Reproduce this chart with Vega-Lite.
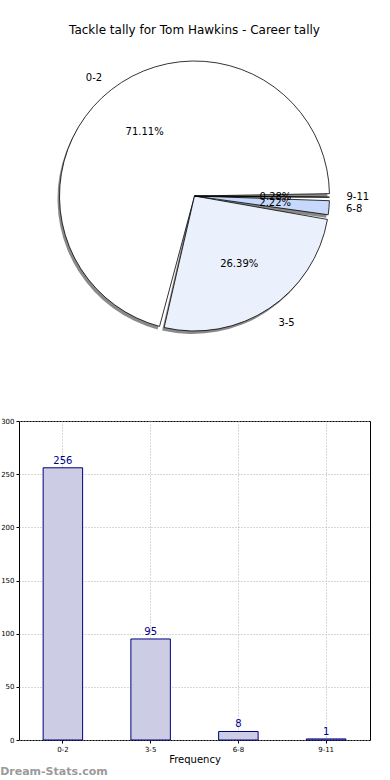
{
  "$schema": "https://vega.github.io/schema/vega-lite/v6.json",
  "padding": {"left": 0, "top": 24, "right": 20, "bottom": 2},
  "background": "white",
  "config": {
    "font": "DejaVu Sans",
    "view": {"stroke": null},
    "title": {"font": "DejaVu Sans", "fontWeight": "normal", "color": "black"}
  },
  "datasets": {
    "tally": [
      {"category": "0-2", "count": 256},
      {"category": "3-5", "count": 95},
      {"category": "6-8", "count": 8},
      {"category": "9-11", "count": 1}
    ]
  },
  "title": {
    "text": "Dream-Stats.com",
    "orient": "bottom",
    "anchor": "start",
    "fontSize": 11,
    "fontWeight": "bold",
    "color": "#9a9a9a",
    "offset": 1
  },
  "vconcat": [
    {
      "width": 351,
      "height": 290,
      "title": {"text": "Tackle tally for Tom Hawkins - Career tally", "fontSize": 12, "offset": 14, "anchor": "middle"},
      "data": {"name": "tally"},
      "transform": [
        {"joinaggregate": [{"op": "sum", "field": "count", "as": "total"}]},
        {"calculate": "datum.count / datum.total", "as": "pct"}
      ],
      "encoding": {
        "theta": {"field": "count", "type": "quantitative", "stack": true, "scale": {"range": [1.5708, 7.854]}},
        "order": {"field": "category", "sort": "descending"},
        "detail": {"field": "category"}
      },
      "layer": [
        {
          "mark": {"type": "arc", "radius": 135, "padAngle": 0.035, "fill": "#8a8a8a", "xOffset": -2, "yOffset": 3, "stroke": null}
        },
        {
          "mark": {"type": "arc", "radius": 135, "padAngle": 0.035, "stroke": "black", "strokeWidth": 0.8},
          "encoding": {
            "color": {
              "field": "category",
              "type": "nominal",
              "scale": {"domain": ["0-2", "3-5", "6-8", "9-11"], "range": ["#ffffff", "#eaf1fd", "#c6d9fb", "#7f9fd6"]},
              "legend": null
            }
          }
        },
        {
          "mark": {"type": "text", "radius": 81, "fontSize": 10, "color": "black", "align": "center", "baseline": "middle"},
          "encoding": {"text": {"field": "pct", "type": "quantitative", "format": ".2%"}}
        },
        {
          "mark": {"type": "text", "radius": 150, "fontSize": 10, "color": "black", "align": "right", "baseline": "middle"},
          "encoding": {"text": {"condition": {"test": "datum.category == '0-2'", "field": "category", "type": "nominal"}, "value": ""}}
        },
        {
          "mark": {"type": "text", "radius": 152, "fontSize": 10, "color": "black", "align": "left", "baseline": "middle"},
          "encoding": {"text": {"condition": {"test": "datum.category != '0-2'", "field": "category", "type": "nominal"}, "value": ""}}
        }
      ]
    },
    {
      "width": 351,
      "height": 319,
      "view": {"stroke": "black", "strokeWidth": 1},
      "data": {"name": "tally"},
      "encoding": {
        "x": {
          "field": "category",
          "type": "nominal",
          "sort": null,
          "scale": {"paddingInner": 0.55, "paddingOuter": 0.275},
          "axis": {
            "title": "Frequency",
            "titleFontSize": 10,
            "titleFontWeight": "normal",
            "titleColor": "black",
            "titlePadding": 2,
            "labelAngle": 0,
            "labelFontSize": 7,
            "labelColor": "black",
            "labelPadding": 2,
            "tickSize": 3,
            "tickColor": "black",
            "domain": false,
            "grid": true,
            "bandPosition": 0.5,
            "gridColor": "#b0b0b0",
            "gridDash": [1, 2],
            "gridWidth": 1
          }
        },
        "y": {
          "field": "count",
          "type": "quantitative",
          "scale": {"domain": [0, 300]},
          "axis": {
            "title": null,
            "values": [0, 50, 100, 150, 200, 250, 300],
            "labelFontSize": 7,
            "labelColor": "black",
            "labelPadding": 2,
            "tickSize": 3,
            "tickColor": "black",
            "domain": false,
            "grid": true,
            "gridColor": "#b0b0b0",
            "gridDash": [1, 2],
            "gridWidth": 1
          }
        }
      },
      "layer": [
        {"mark": {"type": "bar", "fill": "#ccccE4", "stroke": "#00007f", "strokeWidth": 1}},
        {
          "mark": {"type": "text", "dy": -2, "fontSize": 10, "color": "#00008b", "baseline": "bottom"},
          "encoding": {"text": {"field": "count", "type": "quantitative"}}
        }
      ]
    }
  ],
  "spacing": 75
}
